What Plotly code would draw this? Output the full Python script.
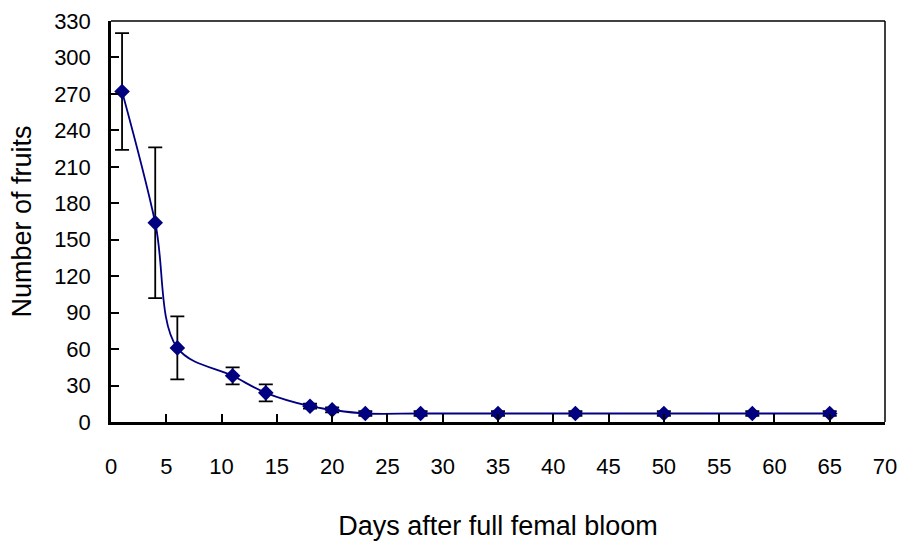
import plotly.graph_objects as go

days = [1, 4, 6, 11, 14, 18, 20, 23, 28, 35, 42, 50, 58, 65]
fruits = [272, 164, 61, 38, 24, 13, 10, 7, 7, 7, 7, 7, 7, 7]
errors = [48, 62, 26, 7, 7, 2, 2, 2, 2, 2, 2, 2, 2, 2]

x_ticks = list(range(0, 71, 5))
y_ticks = list(range(0, 331, 30))

FONT = "Liberation Sans, Arial, sans-serif"

fig = go.Figure()
fig.add_trace(go.Scatter(
    x=days, y=fruits,
    mode="lines+markers",
    line=dict(color="#000080", width=1.8, shape="spline", smoothing=1),
    marker=dict(symbol="diamond", size=12, color="#000080"),
    error_y=dict(type="data", array=errors, visible=True,
                 color="black", thickness=1.8, width=7),
    showlegend=False,
))

fig.update_layout(
    width=901, height=543,
    margin=dict(l=111, r=16, t=21, b=121),
    paper_bgcolor="white", plot_bgcolor="white",
    font=dict(family=FONT, color="black"),
    xaxis=dict(
        range=[0, 70], tickvals=x_ticks, ticktext=[str(v) for v in x_ticks],
        ticks="inside", ticklen=8, tickwidth=1.5, tickcolor="black",
        showline=True, linecolor="black", linewidth=2.5,
        showgrid=False, zeroline=False, automargin=False,
        ticklabeloverflow="allow",
        tickfont=dict(size=22, family=FONT), ticklabelstandoff=23,
        title=dict(text="Days after full femal bloom",
                   font=dict(size=27, family=FONT), standoff=38),
    ),
    yaxis=dict(
        range=[0, 330], tickvals=y_ticks, ticktext=[str(v) for v in y_ticks],
        ticks="inside", ticklen=8, tickwidth=1.5, tickcolor="black",
        showline=True, linecolor="black", linewidth=2.5,
        showgrid=False, zeroline=False, automargin=False,
        ticklabeloverflow="allow",
        tickfont=dict(size=22, family=FONT), ticklabelstandoff=13,
        title=dict(text="Number of fruits",
                   font=dict(size=27, family=FONT), standoff=15),
    ),
    shapes=[
        dict(type="line", xref="paper", yref="paper", x0=0, x1=1, y0=1, y1=1,
             line=dict(color="black", width=1.5)),
        dict(type="line", xref="paper", yref="paper", x0=1, x1=1, y0=0, y1=1,
             line=dict(color="black", width=1.5)),
    ],
)

fig.write_html("out.html", config={"displayModeBar": False},
               post_script="document.body.style.margin='0';")
